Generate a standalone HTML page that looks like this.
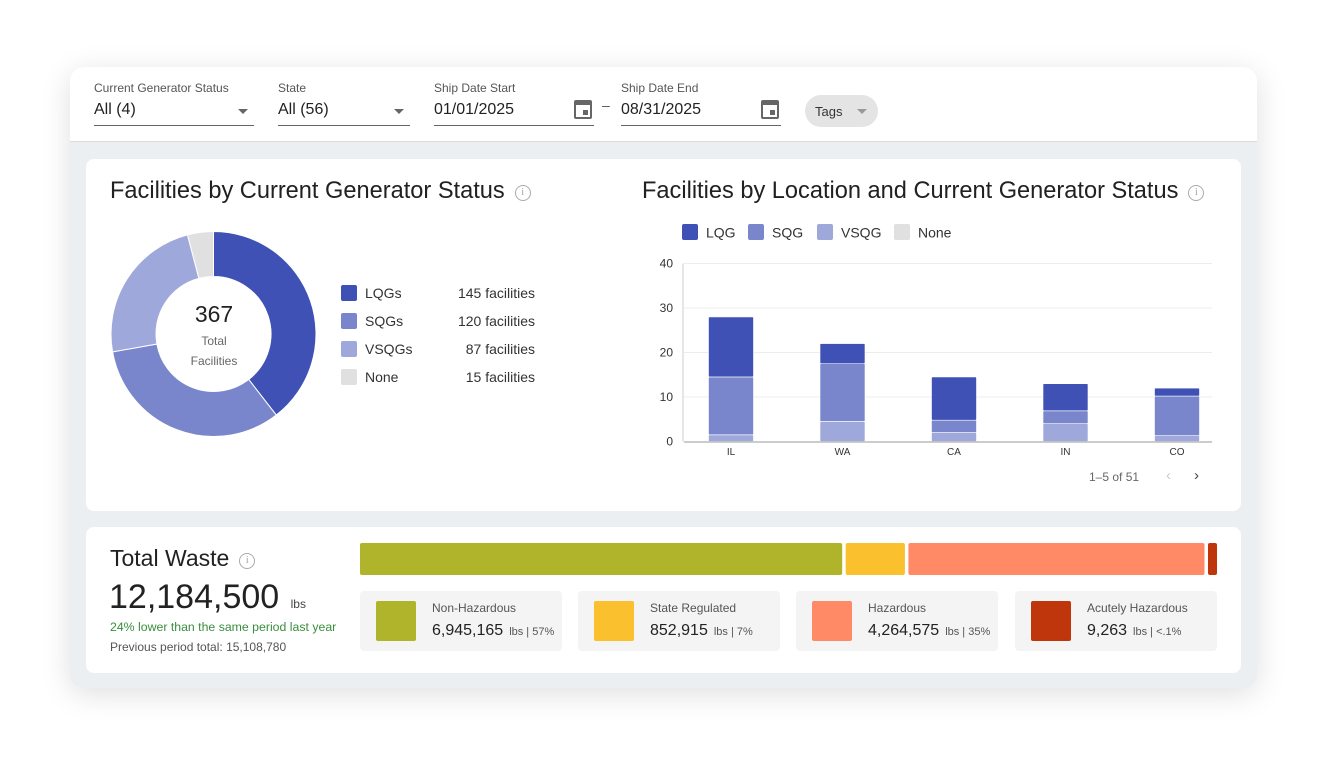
<!DOCTYPE html>
<html><head><meta charset="utf-8"><style>
*{box-sizing:border-box;margin:0;padding:0}
body{width:1327px;height:763px;background:#fff;font-family:"Liberation Sans",sans-serif;color:#212121;position:relative;overflow:hidden}
.abs{position:absolute}
#frame{left:70px;top:67px;width:1187px;height:621px;border-radius:14px;background:#eceff1;box-shadow:0 6px 30px rgba(0,0,0,0.13);overflow:hidden}
#header{left:0;top:0;width:1187px;height:75px;background:#fff;border-bottom:1px solid #dcdcdc}
.field{position:absolute;top:14px}
.field .lbl{font-size:12px;color:#555}
.field .val{font-size:16px;color:#222;margin-top:6px;height:22px;border-bottom:1px solid #666;padding-bottom:24px;position:relative}
.arrow{position:absolute;right:6px;top:8px;width:0;height:0;border-left:5px solid transparent;border-right:5px solid transparent;border-top:5px solid #666}
.cal{position:absolute;right:2px;top:-1px;width:18px;height:19px;border:2px solid #666;border-top-width:5px;border-radius:2px}
.cal:after{content:"";position:absolute;right:2px;bottom:2px;width:5px;height:5px;background:#666}
.card{position:absolute;background:#fff;border-radius:8px}
.title{font-size:23.6px;color:#212121}
.info{display:inline-block;width:16px;height:16px;border:1.5px solid #aaa;border-radius:50%;font-size:11px;color:#aaa;text-align:center;line-height:13px;vertical-align:3px;margin-left:10px;font-family:"Liberation Serif",serif}
.leg{font-size:14px;color:#333}
.sw{position:absolute;width:16px;height:16px;border-radius:2px}
.tile{position:absolute;top:64px;width:202px;height:60px;background:#f4f4f4;border-radius:4px}
.tile .sq{position:absolute;left:16px;top:10px;width:40px;height:40px;border-radius:2px}
.tile .n{position:absolute;left:72px;top:10px;font-size:12px;color:#555}
.tile .v{position:absolute;left:72px;top:31px;font-size:16px;color:#222;white-space:nowrap}
.tile .v small{font-size:11px;color:#555;margin-left:6px}
</style></head><body>
<div id="frame" class="abs">
 <div id="header" class="abs">
  <div class="field" style="left:24px;width:160px"><div class="lbl">Current Generator Status</div><div class="val">All (4)<span class="arrow"></span></div></div>
  <div class="field" style="left:208px;width:132px"><div class="lbl">State</div><div class="val">All (56)<span class="arrow"></span></div></div>
  <div class="field" style="left:364px;width:160px"><div class="lbl">Ship Date Start</div><div class="val">01/01/2025<span class="cal"></span></div></div>
  <div class="abs" style="left:532px;top:30px;font-size:14px;color:#555">–</div>
  <div class="field" style="left:551px;width:160px"><div class="lbl">Ship Date End</div><div class="val">08/31/2025<span class="cal"></span></div></div>
  <div class="abs" style="left:735px;top:28px;width:73px;height:32px;border-radius:16px;background:#e4e4e4;font-size:13px;color:#333;padding:9px 0 0 10px">Tags<span style="position:absolute;right:11px;top:14px;border-left:5px solid transparent;border-right:5px solid transparent;border-top:5px solid #999"></span></div>
 </div>
</div>

<div class="card" style="left:86px;top:159px;width:1155px;height:352px">
 <div class="abs title" style="left:24px;top:19px">Facilities by Current Generator Status<span class="info">i</span></div>
 <div class="abs title" style="left:556px;top:19px">Facilities by Location and Current Generator Status<span class="info">i</span></div>
</div>

<svg class="abs" style="left:0;top:0" width="1327" height="763" id="charts"></svg>

<div class="abs" style="left:183px;top:301px;width:62px;text-align:center;font-size:23px;color:#222">367</div>
<div class="abs" style="left:173px;top:331px;width:82px;text-align:center;font-size:12px;color:#666;line-height:20px">Total<br>Facilities</div>

<div id="donut-legend"></div>

<div class="abs" style="left:1089px;top:470px;font-size:12px;color:#666">1–5 of 51</div>
<div class="abs" style="left:1166px;top:467px;font-size:15px;color:#ccc">‹</div>
<div class="abs" style="left:1194px;top:467px;font-size:15px;color:#444">›</div>

<div class="card" style="left:86px;top:527px;width:1155px;height:146px">
 <div class="abs" style="left:24px;top:18px;font-size:23px">Total Waste<span class="info">i</span></div>
 <div class="abs" style="left:23px;top:51px;font-size:34px;color:#222;white-space:nowrap">12,184,500 <span style="font-size:12px;color:#444;margin-left:2px">lbs</span></div>
 <div class="abs" style="left:24px;top:93px;font-size:12.3px;color:#388e3c;white-space:nowrap">24% lower than the same period last year</div>
 <div class="abs" style="left:24px;top:113px;font-size:12px;color:#555">Previous period total: 15,108,780</div>
 <div class="tile" style="left:274px"><div class="sq" style="background:#afb42b"></div><div class="n">Non-Hazardous</div><div class="v">6,945,165<small>lbs | 57%</small></div></div>
 <div class="tile" style="left:492px"><div class="sq" style="background:#fbc02d"></div><div class="n">State Regulated</div><div class="v">852,915<small>lbs | 7%</small></div></div>
 <div class="tile" style="left:710px"><div class="sq" style="background:#ff8a65"></div><div class="n">Hazardous</div><div class="v">4,264,575<small>lbs | 35%</small></div></div>
 <div class="tile" style="left:929px"><div class="sq" style="background:#bf360c"></div><div class="n">Acutely Hazardous</div><div class="v">9,263<small>lbs | &lt;.1%</small></div></div>
</div>
<svg class="abs" style="left:0;top:0" width="1327" height="763" id="waste"></svg>

<script>
const NS="http://www.w3.org/2000/svg";
function mk(parent,tag,attrs){const e=document.createElementNS(NS,tag);for(const k in attrs)e.setAttribute(k,attrs[k]);parent.appendChild(e);return e;}
// Donut data
const donutLabels=["LQGs","SQGs","VSQGs","None"];
const donutValues=[145,120,87,15];
const donutColors=["#3f51b5","#7986cb","#9fa8da","#e0e0e0"];
// Bar data
const states=["IL","WA","CA","IN","CO"];
const seriesNames=["LQG","SQG","VSQG","None"];
const lqg=[13.5,4.5,9.7,6.1,1.8];
const sqg=[13,13,2.8,2.9,8.9];
const vsqg=[1.5,4.5,2,4,1.3];
const none=[0,0,0,0,0];
const yTicks=[0,10,20,30,40];
// Waste data
const wasteNames=["Non-Hazardous","State Regulated","Hazardous","Acutely Hazardous"];
const wasteValues=[6945165,852915,4264575,9263];
const wasteColors=["#afb42b","#fbc02d","#ff8a65","#bf360c"];

const svg=document.getElementById('charts');
const cx=213.5,cy=334,R=102.5,r=57.5;
const tot=donutValues.reduce((a,b)=>a+b,0);
let a0=0;
donutValues.forEach((v,i)=>{
  const a1=a0+v/tot*2*Math.PI;
  const p=(rad,a)=>[cx+rad*Math.sin(a),cy-rad*Math.cos(a)];
  const lg=(a1-a0)>Math.PI?1:0;
  const [x1,y1]=p(R,a0),[x2,y2]=p(R,a1),[x3,y3]=p(r,a1),[x4,y4]=p(r,a0);
  const path=mk(svg,'path',{d:`M${x1},${y1}A${R},${R} 0 ${lg} 1 ${x2},${y2}L${x3},${y3}A${r},${r} 0 ${lg} 0 ${x4},${y4}Z`,fill:donutColors[i],stroke:'#fff','stroke-width':1});
  
  
  a0=a1;
});
const leg=document.getElementById('donut-legend');
donutLabels.forEach((l,i)=>{
  const y=285+i*28;
  const d=document.createElement('div');d.className='abs';d.style.cssText=`left:341px;top:${y}px;width:200px;height:18px`;
  
  
  d.innerHTML=`<span class="sw" style="left:0;top:0;background:${donutColors[i]}"></span><span class="abs leg" style="left:24px;top:0">${l}</span><span class="abs leg" style="right:6px;top:0">${donutValues[i]} facilities</span>`;
  leg.appendChild(d);
});
const x0=684,x1=1212,yBase=441.5,yTop=263.5,yMax=40;
const ys=v=>yBase-(v/yMax)*(yBase-yTop);
const xl=i=>731+111.5*i;
const barW=45;
yTicks.forEach(t=>{
  if(t>0){const g=mk(svg,'line',{x1:x0,x2:x1,y1:ys(t),y2:ys(t),stroke:'#ececec','stroke-width':1});}
  const tx=mk(svg,'text',{x:673,y:ys(t)+4,'text-anchor':'end','font-size':12,fill:'#333','font-family':'Liberation Sans, sans-serif'});tx.textContent=t;
  
});
const cols={LQG:"#3f51b5",SQG:"#7986cb",VSQG:"#9fa8da",None:"#e0e0e0"};
states.forEach((s,i)=>{
  const stack=[["VSQG",vsqg[i]],["SQG",sqg[i]],["LQG",lqg[i]],["None",none[i]]];
  let acc=0;
  stack.forEach(([n,v])=>{
    if(v<=0)return;
    const yA=ys(acc),yB=ys(acc+v);
    const rc=mk(svg,'rect',{x:xl(i)-barW/2,y:yB,width:barW,height:yA-yB,fill:cols[n],stroke:'#fff','stroke-width':0.6,rx:1});
    
    
    acc+=v;
  });
  const tx=mk(svg,'text',{x:xl(i),y:455,'text-anchor':'middle','font-size':10,fill:'#333','font-family':'Liberation Sans, sans-serif'});tx.textContent=s;
  
});
const ax=mk(svg,'line',{x1:x0,x2:x1,y1:yBase+0.5,y2:yBase+0.5,stroke:'#bbb','stroke-width':1.5});
const ay=mk(svg,'line',{x1:x0-1,x2:x0-1,y1:yTop,y2:yBase,stroke:'#ccc','stroke-width':1});
seriesNames.forEach((n,i)=>{
  const lx=[682,748,817,894][i];
  const rc=mk(svg,'rect',{x:lx,y:224,width:16,height:16,rx:2,fill:cols[n]});
  
  const tx=mk(svg,'text',{x:lx+24,y:237.5,'font-size':14,fill:'#333','font-family':'Liberation Sans, sans-serif'});tx.textContent=n;
  
});
const wsvg=document.getElementById('waste');
const wx0=360,wx1=1217,gap=3.5,minW=9;
const wt=wasteValues.reduce((a,b)=>a+b,0);
const small=wasteValues.filter(v=>v/wt*(wx1-wx0)<minW);
const avail=wx1-wx0-gap*(wasteValues.length-1)-minW*small.length;
const bigTot=wasteValues.filter(v=>!small.includes(v)).reduce((a,b)=>a+b,0);
let wx=wx0;
wasteValues.forEach((v,i)=>{
  const w=small.includes(v)?minW:v/bigTot*avail;
  const rc=mk(wsvg,'rect',{x:wx,y:543,width:w,height:32,rx:2,fill:wasteColors[i]});
  
  
  wx+=w+gap;
});
</script>
</body></html>
